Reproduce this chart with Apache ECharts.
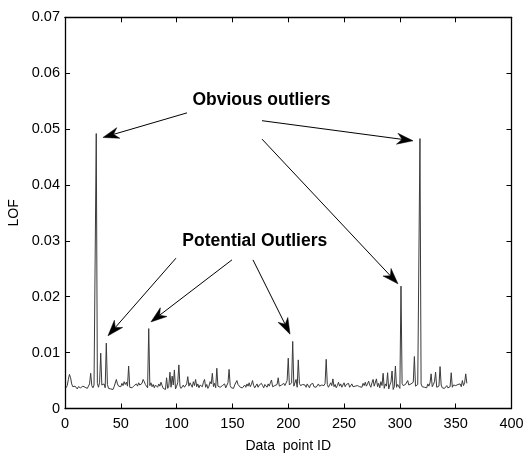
<!DOCTYPE html>
<html>
<head>
<meta charset="utf-8">
<script src="https://cdn.jsdelivr.net/npm/echarts@6/dist/echarts.min.js"></script>
<style>html,body{margin:0;padding:0;background:#fff;}#c{width:526px;height:453px;}</style>
</head>
<body>
<div id="c"></div>
<script>
// LOF values for data points 1..360
const lof = [
0.0037,0.0041,0.0052,0.0061,0.0055,0.0044,0.0039,0.0036,0.0040,0.0038,
0.0035,0.0039,0.0042,0.0037,0.0034,0.0040,0.0043,0.0038,0.0041,0.0036,
0.0039,0.0044,0.0063,0.0041,0.0037,0.0042,0.0040,0.0492,0.0045,0.0038,
0.0047,0.0099,0.0042,0.0039,0.0044,0.0037,0.0117,0.0043,0.0036,0.0038,
0.0035,0.0037,0.0034,0.0039,0.0041,0.0052,0.0044,0.0040,0.0043,0.0039,
0.0045,0.0041,0.0048,0.0043,0.0047,0.0040,0.0076,0.0038,0.0035,0.0037,
0.0036,0.0041,0.0038,0.0044,0.0040,0.0046,0.0042,0.0039,0.0045,0.0052,
0.0048,0.0043,0.0040,0.0037,0.0143,0.0041,0.0046,0.0039,0.0043,0.0037,
0.0042,0.0045,0.0038,0.0044,0.0040,0.0047,0.0041,0.0036,0.0039,0.0034,
0.0055,0.0036,0.0040,0.0065,0.0038,0.0058,0.0042,0.0069,0.0035,0.0040,
0.0046,0.0078,0.0040,0.0036,0.0039,0.0042,0.0038,0.0041,0.0044,0.0057,
0.0040,0.0046,0.0043,0.0038,0.0048,0.0041,0.0052,0.0039,0.0044,0.0037,
0.0042,0.0045,0.0039,0.0047,0.0052,0.0038,0.0043,0.0036,0.0040,0.0048,
0.0044,0.0063,0.0039,0.0045,0.0037,0.0072,0.0040,0.0043,0.0038,0.0036,
0.0041,0.0039,0.0044,0.0037,0.0040,0.0046,0.0070,0.0041,0.0037,0.0039,
0.0036,0.0042,0.0045,0.0050,0.0043,0.0040,0.0038,0.0041,0.0037,0.0039,
0.0042,0.0038,0.0044,0.0040,0.0046,0.0039,0.0043,0.0050,0.0041,0.0037,
0.0040,0.0044,0.0038,0.0042,0.0039,0.0045,0.0041,0.0037,0.0043,0.0040,
0.0038,0.0044,0.0040,0.0046,0.0051,0.0039,0.0036,0.0041,0.0038,0.0043,
0.0055,0.0040,0.0037,0.0042,0.0039,0.0045,0.0041,0.0038,0.0050,0.0090,
0.0042,0.0039,0.0046,0.0120,0.0040,0.0043,0.0052,0.0038,0.0087,0.0045,
0.0041,0.0039,0.0043,0.0040,0.0042,0.0038,0.0044,0.0041,0.0037,0.0043,
0.0040,0.0045,0.0039,0.0042,0.0038,0.0041,0.0044,0.0040,0.0037,0.0042,
0.0039,0.0041,0.0045,0.0088,0.0043,0.0038,0.0040,0.0046,0.0041,0.0053,
0.0039,0.0043,0.0037,0.0041,0.0047,0.0040,0.0044,0.0038,0.0042,0.0046,
0.0039,0.0043,0.0040,0.0045,0.0038,0.0041,0.0044,0.0039,0.0042,0.0040,
0.0043,0.0041,0.0044,0.0039,0.0042,0.0038,0.0045,0.0041,0.0047,0.0040,
0.0044,0.0049,0.0042,0.0038,0.0046,0.0052,0.0040,0.0043,0.0053,0.0039,
0.0045,0.0037,0.0048,0.0041,0.0063,0.0036,0.0044,0.0040,0.0064,0.0035,
0.0042,0.0047,0.0067,0.0034,0.0039,0.0076,0.0038,0.0043,0.0040,0.0036,
0.0219,0.0045,0.0041,0.0038,0.0043,0.0040,0.0050,0.0042,0.0039,0.0044,
0.0041,0.0047,0.0093,0.0040,0.0038,0.0043,0.0045,0.0483,0.0044,0.0039,
0.0042,0.0038,0.0041,0.0037,0.0044,0.0040,0.0046,0.0062,0.0039,0.0043,
0.0048,0.0065,0.0038,0.0041,0.0040,0.0075,0.0042,0.0037,0.0040,0.0036,
0.0038,0.0041,0.0037,0.0040,0.0039,0.0064,0.0038,0.0042,0.0039,0.0041,
0.0038,0.0043,0.0040,0.0044,0.0039,0.0050,0.0041,0.0046,0.0062,0.0045
];
const pointIds = lof.map((v, i) => i + 1);

// annotation labels (data coordinates of text centres)
const labels = [
  { text: 'Obvious outliers', at: [176, 0.0551] },
  { text: 'Potential Outliers', at: [170, 0.0300] }
];
// arrows: [from, to] in data coordinates
const arrows = [
  [[109.3, 0.0529], [34.0, 0.0485]],
  [[176.5, 0.0515], [311.8, 0.0479]],
  [[176.5, 0.0482], [298.3, 0.0223]],
  [[99.4, 0.0269], [38.5, 0.0130]],
  [[149.6, 0.0266], [77.0, 0.0155]],
  [[168.4, 0.0266], [201.6, 0.0133]]
];

const font = 'Liberation Sans, Arial, Helvetica, sans-serif';
const chart = echarts.init(document.getElementById('c'), null, { renderer: 'canvas' });
function axisCommon() {
  return {
    axisLine: { show: true, onZero: false, lineStyle: { color: '#000', width: 1.3 } },
    axisTick: { show: true, inside: true, length: 5, lineStyle: { color: '#000' } },
    splitLine: { show: false }
  };
}
chart.setOption({
  animation: false,
  backgroundColor: '#fff',
  grid: { left: 65, right: 14.5, top: 17.3, bottom: 44.5, containLabel: false, outerBoundsMode: 'none' },
  xAxis: [
    Object.assign({
      type: 'value', min: 0, max: 400, interval: 50, position: 'bottom',
      name: 'Data  point ID', nameLocation: 'middle', nameGap: 31,
      nameTextStyle: { fontFamily: font, fontSize: 14, color: '#000' },
      axisLabel: { fontFamily: font, fontSize: 14.5, color: '#000', margin: 8 }
    }, axisCommon()),
    Object.assign({
      type: 'value', min: 0, max: 400, interval: 50, position: 'top',
      axisLabel: { show: false }
    }, axisCommon())
  ],
  yAxis: [
    Object.assign({
      type: 'value', min: 0, max: 0.07, interval: 0.01, position: 'left',
      name: 'LOF', nameLocation: 'middle', nameGap: 44,
      nameTextStyle: { fontFamily: font, fontSize: 14, color: '#000' },
      axisLabel: { fontFamily: font, fontSize: 14.5, color: '#000', margin: 5,
        formatter: v => (v === 0 ? '0' : v.toFixed(2)) }
    }, axisCommon()),
    Object.assign({
      type: 'value', min: 0, max: 0.07, interval: 0.01, position: 'right',
      axisLabel: { show: false }
    }, axisCommon())
  ],
  series: [{
    type: 'line',
    xAxisIndex: 0, yAxisIndex: 0,
    data: pointIds.map((id, i) => [id, lof[i]]),
    showSymbol: false,
    symbol: 'none',
    lineStyle: { color: '#3a3a3a', width: 1 },
    silent: true
  }]
});

function arrowGraphics(from, to) {
  const p0 = chart.convertToPixel({ gridIndex: 0 }, from);
  const p1 = chart.convertToPixel({ gridIndex: 0 }, to);
  const dx = p1[0] - p0[0], dy = p1[1] - p0[1];
  const len = Math.hypot(dx, dy);
  const ux = dx / len, uy = dy / len;
  const nx = -uy, ny = ux;
  const L = 16, W = 5.5, N = 11;
  const back = [p1[0] - ux * L, p1[1] - uy * L];
  const notch = [p1[0] - ux * N, p1[1] - uy * N];
  return [
    { type: 'line', shape: { x1: p0[0], y1: p0[1], x2: notch[0], y2: notch[1] },
      style: { stroke: '#000', lineWidth: 1 }, silent: true },
    { type: 'polygon', shape: { points: [
        p1,
        [back[0] + nx * W, back[1] + ny * W],
        notch,
        [back[0] - nx * W, back[1] - ny * W]
      ] }, style: { fill: '#000', stroke: '#000', lineWidth: 0.5 }, silent: true }
  ];
}

const g = [];
arrows.forEach(a => g.push(...arrowGraphics(a[0], a[1])));
labels.forEach(l => {
  const p = chart.convertToPixel({ gridIndex: 0 }, l.at);
  g.push({ type: 'text', x: p[0], y: p[1], silent: true,
    style: { text: l.text, fontFamily: font, fontSize: 17.5, fontWeight: 'bold',
      fill: '#000', align: 'center', verticalAlign: 'middle' } });
});
chart.setOption({ graphic: g });
</script>
</body>
</html>
